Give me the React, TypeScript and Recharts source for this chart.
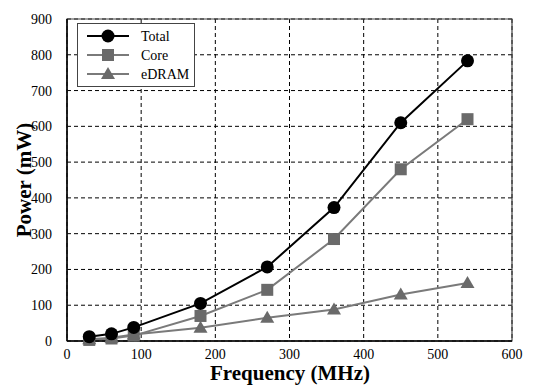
import { LineChart, Line, XAxis, YAxis, CartesianGrid, ReferenceArea } from "recharts"

const frequency = [30, 60, 90, 180, 270, 360, 450, 540]
const totalPower = [12, 20, 38, 105, 207, 373, 610, 783]
const corePower = [3, 7, 15, 70, 143, 285, 480, 620]
const edramPower = [5, 9, 18, 37, 65, 88, 130, 162]
const xTicks = [0, 100, 200, 300, 400, 500, 600]
const yTicks = [0, 100, 200, 300, 400, 500, 600, 700, 800, 900]

const data = frequency.map((f, i) => ({
  freq: f,
  total: totalPower[i],
  core: corePower[i],
  edram: edramPower[i],
}))

const FONT = "Liberation Serif, Times New Roman, serif"
const GRAY_LINE = "#7a7a7a"
const GRAY_MARK = "#6a6a6a"

const Circle = (props: any) => {
  const { cx, cy } = props
  if (cx == null || cy == null) return null
  return <circle cx={cx} cy={cy} r={6.5} fill="#000" />
}

const Square = (props: any) => {
  const { cx, cy } = props
  if (cx == null || cy == null) return null
  return <rect x={cx - 6} y={cy - 6} width={12} height={12} fill={GRAY_MARK} />
}

const Triangle = (props: any) => {
  const { cx, cy } = props
  if (cx == null || cy == null) return null
  return <polygon points={`${cx},${cy - 7} ${cx + 7},${cy + 5} ${cx - 7},${cy + 5}`} fill={GRAY_MARK} />
}

const XTick = (props: any) => {
  const { x, y, payload } = props
  return (
    <text x={x} y={y + 12} textAnchor="middle" fontSize={14} fontFamily={FONT} fill="#000">
      {payload.value}
    </text>
  )
}

const YTick = (props: any) => {
  const { x, y, payload } = props
  return (
    <text x={x} y={y + 5} textAnchor="end" fontSize={14} fontFamily={FONT} fill="#000">
      {payload.value}
    </text>
  )
}

const legendItems = [
  { name: "Total", color: "#000", marker: "circle" },
  { name: "Core", color: GRAY_LINE, marker: "square" },
  { name: "eDRAM", color: GRAY_LINE, marker: "triangle" },
]

function LegendBox() {
  return (
    <svg width={118} height={64} style={{ display: "block" }}>
      <rect x={0.5} y={0.5} width={117} height={63} fill="#fff" stroke="#444" />
      {legendItems.map((it, i) => {
        const y = 13 + i * 19
        return (
          <g key={it.name}>
            <line x1={10} x2={52} y1={y} y2={y} stroke={it.color} strokeWidth={2} />
            {it.marker === "circle" && <circle cx={31} cy={y} r={6.5} fill="#000" />}
            {it.marker === "square" && <rect x={25} y={y - 6} width={12} height={12} fill={GRAY_MARK} />}
            {it.marker === "triangle" && (
              <polygon points={`31,${y - 7} 38,${y + 5} 24,${y + 5}`} fill={GRAY_MARK} />
            )}
            <text x={64} y={y + 5} fontSize={14} fontFamily={FONT} fill="#000">
              {it.name}
            </text>
          </g>
        )
      })}
    </svg>
  )
}

export default function App() {
  return (
    <div style={{ position: "fixed", left: 0, top: 0, width: 541, height: 385, background: "#fff" }}>
      <LineChart width={541} height={385} data={data} margin={{ top: 19, right: 29, left: 0, bottom: 0 }}>
        <CartesianGrid stroke="#000" strokeDasharray="4 3" strokeWidth={1} />
        <ReferenceArea x1={0} x2={600} y1={0} y2={900} fill="none" stroke="#444" strokeWidth={1.2} />
        <XAxis
          dataKey="freq"
          type="number"
          domain={[0, 600]}
          ticks={xTicks}
          height={44}
          tickLine={false}
          axisLine={{ stroke: "#000", strokeWidth: 1.5 }}
          tick={<XTick />}
          tickMargin={0}
        />
        <YAxis
          type="number"
          domain={[0, 900]}
          ticks={yTicks}
          width={67}
          tickLine={false}
          axisLine={{ stroke: "#000", strokeWidth: 1.5 }}
          tick={<YTick />}
          tickMargin={9}
        />
        <Line dataKey="edram" stroke={GRAY_LINE} strokeWidth={2} dot={<Triangle />} isAnimationActive={false} />
        <Line dataKey="core" stroke={GRAY_LINE} strokeWidth={2} dot={<Square />} isAnimationActive={false} />
        <Line dataKey="total" stroke="#000" strokeWidth={2} dot={<Circle />} isAnimationActive={false} />
      </LineChart>
      <svg width={541} height={385} style={{ position: "absolute", left: 0, top: 0, pointerEvents: "none" }}>
        <text x={290} y={380} textAnchor="middle" fontSize={21} fontWeight="bold" fontFamily={FONT} fill="#000">
          Frequency (MHz)
        </text>
        <text
          x={31}
          y={180}
          textAnchor="middle"
          fontSize={21}
          fontWeight="bold"
          fontFamily={FONT}
          fill="#000"
          transform="rotate(-90 31 180)"
        >
          Power (mW)
        </text>
      </svg>
      <div style={{ position: "absolute", left: 77, top: 23 }}>
        <LegendBox />
      </div>
    </div>
  )
}
